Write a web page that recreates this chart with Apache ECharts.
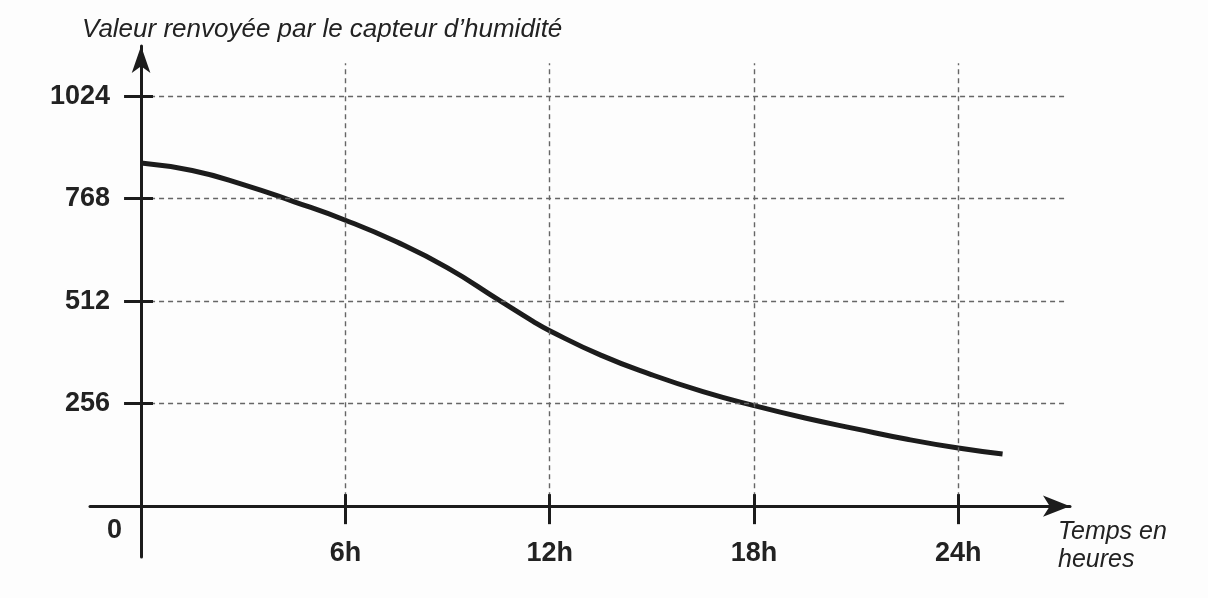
<!DOCTYPE html>
<html><head><meta charset="utf-8">
<script src="https://cdn.jsdelivr.net/npm/echarts@6/dist/echarts.min.js"></script>
<style>html,body{margin:0;padding:0;background:#fdfdfd}#c{width:1208px;height:598px}</style>
</head><body><div id="c"></div>
<script>
// Data
const hours  = [0, 1.5, 3, 4.5, 6, 7.5, 9, 10.5, 11.5, 12, 13.5, 15, 16.5, 18, 19.5, 21, 22.5, 24, 25.3];
const values = [857, 838, 803, 760, 714, 660, 595, 515, 462, 438, 377, 328, 286, 251, 220, 193, 167, 145, 130];
const xTicks = [6, 12, 18, 24];
const yTicks = [256, 512, 768, 1024];
const originLabel = '0';
const yTitle = 'Valeur renvoyée par le capteur d’humidité';
const xTitle = 'Temps en\nheures';

const X_MIN = -1.5, X_MAX = 27.28, Y_MIN = -127, Y_MAX = 1149;
const GRID_X_END = 27.2, GRID_Y_END = 1106;
const ink = '#1c1c1c', gridGray = '#666';
const font = 'Liberation Sans, Arial, sans-serif';

const gridLines = [];
yTicks.forEach(v => gridLines.push([{coord: [0, v]}, {coord: [GRID_X_END, v]}]));
xTicks.forEach(h => gridLines.push([{coord: [h, 0]}, {coord: [h, GRID_Y_END]}]));

const tickLines = [];
yTicks.forEach(v => tickLines.push([{coord: [-0.5, v]}, {coord: [0.35, v]}]));
xTicks.forEach(h => tickLines.push([{coord: [h, -45]}, {coord: [h, 30]}]));

const chart = echarts.init(document.getElementById('c'), null, {renderer: 'canvas'});
chart.setOption({
  backgroundColor: '#fdfdfd',
  animation: false,
  title: [
    {text: yTitle, left: 82, top: 16, padding: 0,
     textStyle: {fontFamily: font, fontStyle: 'italic', fontWeight: 'normal', fontSize: 26, lineHeight: 28, color: '#222'}},
    {text: xTitle, left: 1058, top: 518, padding: 0,
     textStyle: {fontFamily: font, fontStyle: 'italic', fontWeight: 'normal', fontSize: 25, lineHeight: 28, color: '#222'}},
    {text: originLabel, left: 107, top: 517, padding: 0,
     textStyle: {fontFamily: font, fontWeight: 'bold', fontSize: 27, lineHeight: 28, color: '#222'}}
  ],
  grid: {left: 90, right: 138, top: 46, bottom: 41, containLabel: false, outerBoundsMode: 'none'},
  xAxis: {
    type: 'value', min: X_MIN, max: X_MAX,
    axisLine: {onZero: true, symbol: ['none', 'arrow'], symbolSize: [16, 27],
               lineStyle: {color: ink, width: 3}},
    axisTick: {show: false},
    splitLine: {show: false},
    axisLabel: {customValues: xTicks, formatter: v => String(v) + 'h', margin: -17,
                fontFamily: font, fontWeight: 'bold', fontSize: 27, color: '#222'}
  },
  yAxis: {
    type: 'value', min: Y_MIN, max: Y_MAX,
    axisLine: {onZero: true, symbol: ['none', 'arrow'], symbolSize: [14, 27],
               lineStyle: {color: ink, width: 3}},
    axisTick: {show: false},
    splitLine: {show: false},
    axisLabel: {customValues: yTicks, margin: -20, formatter: v => String(v),
                fontFamily: font, fontWeight: 'bold', fontSize: 27, color: '#222'}
  },
  series: [
    {type: 'line', data: [], silent: true, z: 1,
     markLine: {silent: true, symbol: 'none', label: {show: false}, animation: false,
                lineStyle: {color: gridGray, width: 1.4, type: [5, 4]}, data: gridLines}},
    {type: 'line', data: [], silent: true, z: 3,
     markLine: {silent: true, symbol: 'none', label: {show: false}, animation: false,
                lineStyle: {color: ink, width: 3, type: 'solid'}, data: tickLines}},
    {type: 'line', data: hours.map((h, i) => [h, values[i]]), smooth: 0.5,
     symbol: 'none', z: 4, lineStyle: {color: ink, width: 5, cap: 'butt', join: 'round'}}
  ]
});
</script></body></html>
